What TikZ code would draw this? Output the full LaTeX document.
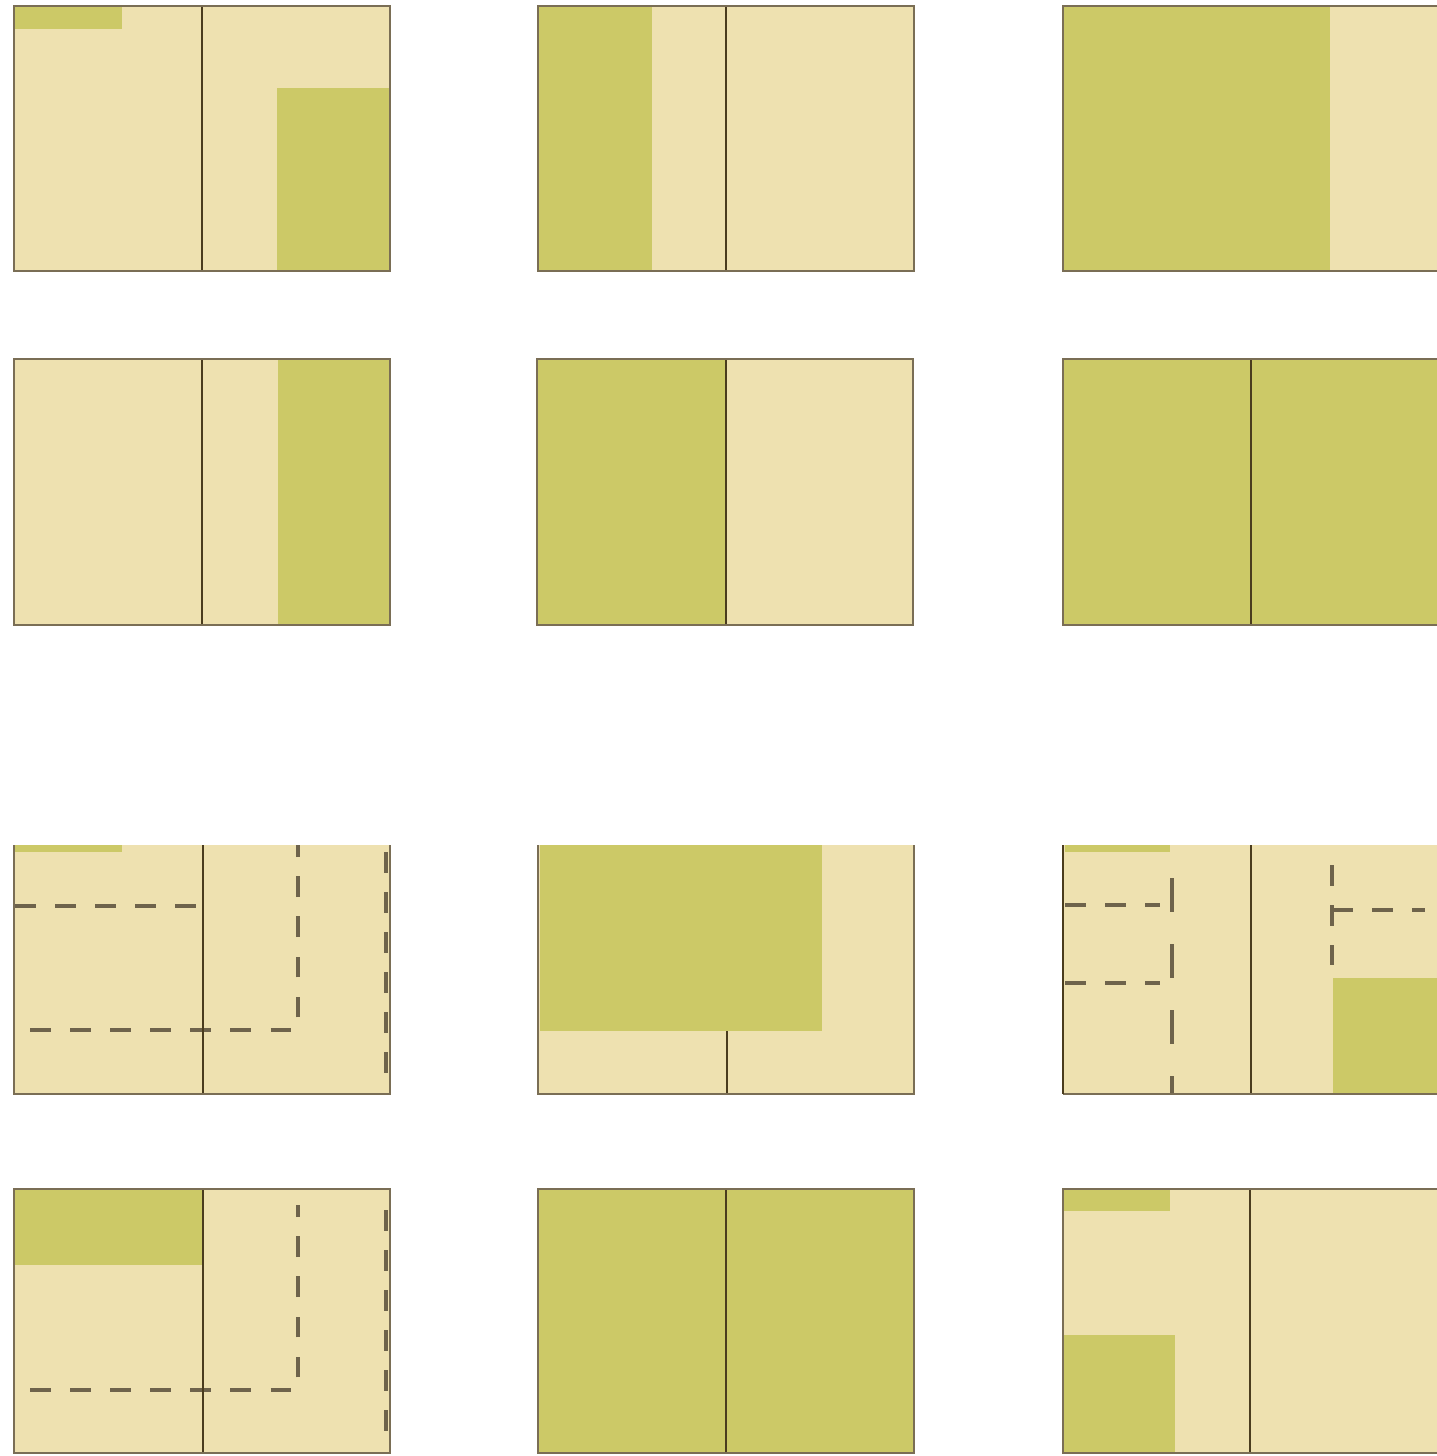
\documentclass[tikz,border=0pt]{standalone}
\usepackage{xcolor}
\usepackage{tikz}

\definecolor{paper}{HTML}{EEE1B0}
\definecolor{leaf}{HTML}{CCC967}
\definecolor{rimcol}{HTML}{7A6E55}
\definecolor{spinecol}{HTML}{4A3C1E}

\begin{document}
\begin{tikzpicture}[
    x=0.01cm, y=-0.01cm,
    sheet/.style={fill=paper},
    patch/.style={fill=leaf},
    rim/.style={draw=rimcol, line width=0.7pt},
    spine/.style={draw=spinecol, line width=0.8pt},
    guide/.style={draw=spinecol!80, line width=1pt, dash pattern=on 5.9pt off 5.5pt},
    longguide/.style={draw=spinecol!80, line width=1pt, dash pattern=on 9.6pt off 9.2pt}
]
    \useasboundingbox (0,0) rectangle (1437,1456);

    % row 1
    \fill[sheet] (14,6) rectangle (390,271);
    \fill[patch] (15,6) rectangle (122,29);
    \fill[patch] (277,88) rectangle (390,271);
    \draw[spine] (202,6) -- (202,271);
    \draw[rim] (14,6) rectangle (390,271);

    \fill[sheet] (538,6) rectangle (914,271);
    \fill[patch] (538,6) rectangle (652,271);
    \draw[spine] (726,6) -- (726,271);
    \draw[rim] (538,6) rectangle (914,271);

    \fill[sheet] (1063,6) rectangle (1438,271);
    \fill[patch] (1063,6) rectangle (1330,271);
    \draw[rim] (1063,6) rectangle (1438,271);

    % row 2
    \fill[sheet] (14,359) rectangle (390,625);
    \fill[patch] (278,359) rectangle (390,625);
    \draw[spine] (202,359) -- (202,625);
    \draw[rim] (14,359) rectangle (390,625);

    \fill[sheet] (537,359) rectangle (913,625);
    \fill[patch] (537,359) rectangle (726,625);
    \draw[spine] (726,359) -- (726,625);
    \draw[rim] (537,359) rectangle (913,625);

    \fill[patch] (1063,359) rectangle (1438,625);
    \draw[spine] (1251,359) -- (1251,625);
    \draw[rim] (1063,359) rectangle (1438,625);

    % row 3
    \fill[sheet] (14,845) rectangle (390,1094);
    \fill[patch] (15,845) rectangle (122,852);
    \draw[guide] (15,906) -- (203,906);
    \draw[guide] (30,1030) -- (298,1030) -- (298,845);
    \draw[guide] (386,852) -- (386,1080);
    \draw[spine] (203,845) -- (203,1094);
    \draw[rim] (14,845) -- (14,1094) -- (390,1094) -- (390,845);

    \fill[sheet] (538,845) rectangle (914,1094);
    \fill[patch] (540,845) rectangle (822,1031);
    \draw[spine] (727,1031) -- (727,1094);
    \draw[rim] (538,845) -- (538,1094) -- (914,1094) -- (914,845);

    \fill[sheet] (1063,845) rectangle (1438,1094);
    \fill[patch] (1065,845) rectangle (1170,852);
    \fill[patch] (1333,978) rectangle (1438,1094);
    \draw[guide] (1065,905) -- (1160,905);
    \draw[guide] (1065,983) -- (1160,983);
    \draw[longguide] (1172,878) -- (1172,1094);
    \draw[guide] (1332,865) -- (1332,965);
    \draw[guide] (1332,910) -- (1425,910);
    \draw[spine] (1251,845) -- (1251,1094);
    \draw[rim] (1063,1094) -- (1438,1094);
    \draw[spine] (1063,845) -- (1063,1094);

    % row 4
    \fill[sheet] (14,1189) rectangle (390,1453);
    \fill[patch] (15,1190) rectangle (203,1265);
    \draw[guide] (30,1390) -- (298,1390) -- (298,1205);
    \draw[guide] (386,1210) -- (386,1445);
    \draw[spine] (203,1189) -- (203,1453);
    \draw[rim] (14,1189) rectangle (390,1453);

    \fill[patch] (538,1189) rectangle (914,1453);
    \draw[spine] (726,1189) -- (726,1453);
    \draw[rim] (538,1189) rectangle (914,1453);

    \fill[sheet] (1063,1189) rectangle (1438,1453);
    \fill[patch] (1063,1189) rectangle (1170,1211);
    \fill[patch] (1063,1335) rectangle (1175,1453);
    \draw[spine] (1250,1189) -- (1250,1453);
    \draw[rim] (1063,1189) rectangle (1438,1453);
\end{tikzpicture}
\end{document}
